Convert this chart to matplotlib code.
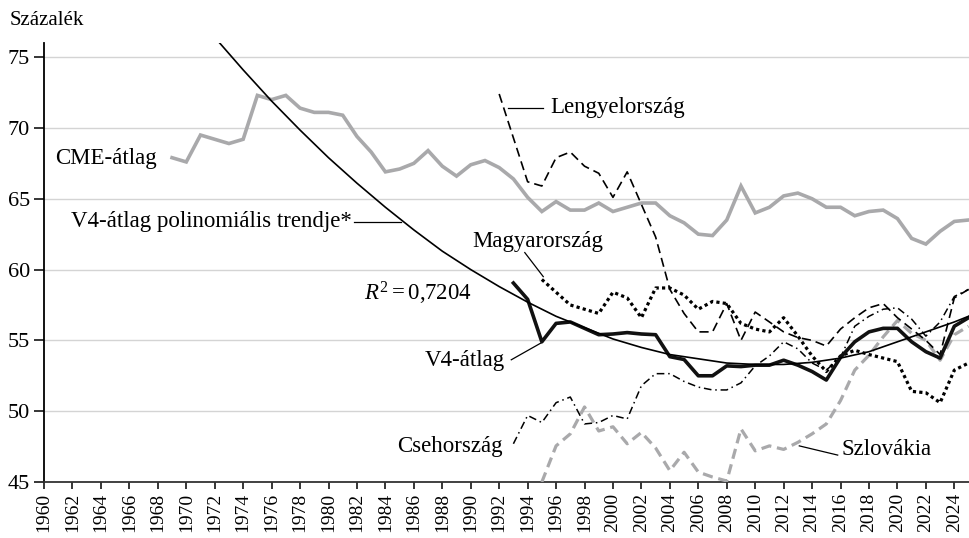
import numpy as np
import matplotlib
matplotlib.use("Agg")
import matplotlib.pyplot as plt

plt.rcParams['font.family'] = ['Liberation Serif', 'DejaVu Serif']
plt.rcParams['mathtext.fontset'] = 'custom'
plt.rcParams['mathtext.rm'] = 'Liberation Serif'
plt.rcParams['mathtext.it'] = 'Liberation Serif:italic'

# --- adatok (leolvasva az ábráról) ---
cme_years = list(range(1969, 2026))
cme = [67.9, 67.6, 69.5, 69.2, 68.9, 69.2, 72.3, 72.0, 72.3, 71.4, 71.1, 71.1,
       70.9, 69.4, 68.3, 66.9, 67.1, 67.5, 68.4, 67.3, 66.6, 67.4, 67.7, 67.2,
       66.4, 65.1, 64.1, 64.8, 64.2, 64.2, 64.7, 64.1, 64.4, 64.7, 64.7, 63.8,
       63.3, 62.5, 62.4, 63.5, 65.9, 64.0, 64.4, 65.2, 65.4, 65.0, 64.4, 64.4,
       63.8, 64.1, 64.2, 63.6, 62.2, 61.8, 62.7, 63.4, 63.5]

pl_years = list(range(1992, 2026))
pl = [72.4, 69.3, 66.2, 65.9, 67.9, 68.3, 67.3, 66.8, 65.1, 66.9, 64.6, 62.3,
      58.6, 56.9, 55.6, 55.6, 57.6, 55.0, 57.0, 56.3, 55.6, 55.2, 55.0, 54.6,
      55.8, 56.6, 57.3, 57.6, 56.6, 55.8, 55.0, 54.0, 58.0, 58.6]

v4_years = list(range(1993, 2026))
v4 = [59.05, 57.9, 54.9, 56.2, 56.3, 55.85, 55.4, 55.45, 55.55, 55.45, 55.4,
      53.85, 53.65, 52.5, 52.5, 53.2, 53.15, 53.25, 53.25, 53.6, 53.25, 52.8,
      52.2, 53.8, 54.9, 55.6, 55.85, 55.85, 54.9, 54.2, 53.75, 56.0, 56.6]

hu_years = list(range(1995, 2026))
hu = [59.3, 58.4, 57.5, 57.2, 56.9, 58.4, 58.0, 56.6, 58.7, 58.7, 58.2, 57.2,
      57.75, 57.6, 56.2, 55.8, 55.6, 56.6, 55.3, 53.9, 52.8, 53.9, 54.3, 54.0,
      53.75, 53.5, 51.4, 51.3, 50.6, 52.9, 53.4]

cz_years = list(range(1993, 2026))
cz = [47.7, 49.7, 49.2, 50.6, 51.0, 49.1, 49.2, 49.7, 49.45, 51.8, 52.65, 52.65,
      52.1, 51.7, 51.5, 51.5, 52.0, 53.2, 53.9, 54.9, 54.4, 53.4, 52.9, 53.8,
      56.0, 56.7, 57.2, 57.3, 56.5, 55.3, 56.3, 58.1, 58.6]

sk_years = list(range(1995, 2026))
sk = [45.0, 47.55, 48.4, 50.3, 48.6, 48.9, 47.7, 48.5, 47.4, 45.8, 47.1, 45.7,
      45.35, 45.07, 48.75, 47.2, 47.55, 47.3, 47.8, 48.4, 49.1, 50.75, 52.9,
      53.95, 55.25, 56.4, 55.5, 55.0, 53.6, 55.4, 56.0]

trend_years = [1972, 1974, 1976, 1978, 1980, 1982, 1984, 1986, 1988, 1990, 1992,
               1994, 1996, 1998, 2000, 2002, 2004, 2006, 2008, 2010, 2012, 2014,
               2016, 2018, 2020, 2022, 2024, 2025]
trend = [76.4, 74.1, 71.9, 69.85, 67.9, 66.1, 64.4, 62.8, 61.3, 60.0, 58.8, 57.7,
         56.7, 55.9, 55.1, 54.5, 54.0, 53.7, 53.4, 53.3, 53.3, 53.45, 53.75,
         54.2, 54.9, 55.6, 56.3, 56.7]

xticks = list(range(1960, 2025, 2))
yticks = [45, 50, 55, 60, 65, 70, 75]

fig = plt.figure(figsize=(9.7, 5.38), dpi=100)
ax = fig.add_axes([0.0454, 0.1041, 0.9531, 0.816])

gray = '#a9a9ab'
ax.plot(cme_years, cme, color=gray, lw=2.6, solid_joinstyle='miter', zorder=3)
ax.plot(sk_years, sk, color=gray, lw=2.3, dashes=(3.2, 1.8), zorder=3)
ax.plot(cz_years, cz, color='black', lw=1.1, dashes=(5, 2.5, 1, 2.5), zorder=4)
ax.plot(pl_years, pl, color='black', lw=1.2, dashes=(5.5, 3), zorder=4)
ax.plot(hu_years, hu, color='black', lw=2.3, dashes=(1, 1), dash_capstyle='butt', zorder=4)
ax.plot(v4_years, v4, color='#111111', lw=2.6, zorder=5)
ax.plot(trend_years, trend, color='black', lw=1.2, zorder=6)

ax.set_xlim(1960, 2025)
ax.set_ylim(45, 76)
ax.set_xticks(xticks)
ax.set_xticklabels([str(x) for x in xticks], rotation=90, fontsize=14)
ax.set_yticks(yticks)
ax.set_yticklabels([str(y) for y in yticks], fontsize=16)
ax.tick_params(axis='x', direction='out', length=5, width=1.1, pad=3)
ax.tick_params(axis='y', direction='out', length=7, width=1.1, pad=3)
ax.grid(axis='y', color='#d4d4d4', lw=1.0, zorder=0)
ax.set_axisbelow(True)
for s in ['top', 'right']:
    ax.spines[s].set_visible(False)
ax.spines['left'].set_linewidth(1.3)
ax.spines['bottom'].set_linewidth(1.3)
ax.spines['bottom'].set_color('#333333')

# feliratok
fs = 16.5
fig.text(0.010, 0.962, 'Százalék', fontsize=15, va='center', ha='left')
ax.text(1960.8, 67.85, 'CME-átlag', fontsize=fs, va='center', ha='left')
ax.text(1995.6, 71.44, 'Lengyelország', fontsize=fs, va='center', ha='left')
ax.plot([1992.6, 1995.1], [71.44, 71.44], color='black', lw=0.9)
ax.text(1961.9, 63.4, 'V4-átlag polinomiális trendje*', fontsize=fs,
        va='center', ha='left')
ax.plot([1981.8, 1985.1], [63.36, 63.36], color='black', lw=0.9)
ax.text(1990.1, 61.95, 'Magyarország', fontsize=fs, va='center', ha='left')
ax.plot([1993.8, 1995.1], [61.2, 59.5], color='black', lw=0.9)
ax.text(1982.5, 58.35, r'$R^2 = 0{,}7204$', fontsize=fs, va='center', ha='left')
ax.text(1986.8, 53.6, 'V4-átlag', fontsize=fs, va='center', ha='left')
ax.plot([1992.85, 1995.0], [53.63, 54.85], color='black', lw=0.9)
ax.text(1984.8, 47.5, 'Csehország', fontsize=fs, va='center', ha='left')
ax.text(2016.1, 47.26, 'Szlovákia', fontsize=fs, va='center', ha='left')
ax.plot([2013.1, 2015.8], [47.55, 46.9], color='black', lw=0.9)

fig.savefig('out.png', dpi=100)
